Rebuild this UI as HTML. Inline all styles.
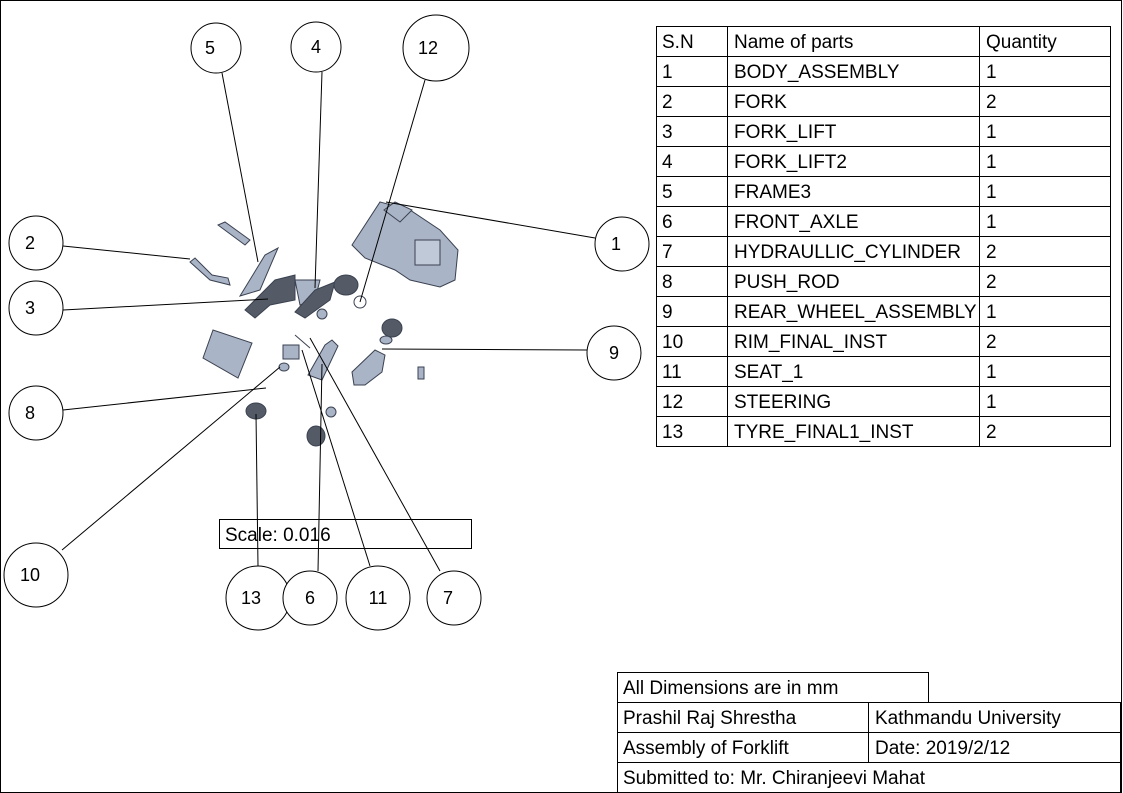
<!DOCTYPE html>
<html><head><style>
body{margin:0;background:#fff;}
svg{display:block;font-family:"Liberation Sans",sans-serif;}
</style></head><body>
<svg width="1123" height="793" viewBox="0 0 1123 793" xmlns="http://www.w3.org/2000/svg">
<rect x="0.5" y="0.5" width="1121" height="792" fill="none" stroke="#000" stroke-width="1"/>
<g fill="#a9b4c6" stroke="#3a4150" stroke-width="1">
<polygon points="352,245 380,202 410,210 440,230 458,250 455,280 440,287 410,280 395,270 365,258"/>
<polygon points="384,210 395,202 412,210 400,222"/>
<rect x="415" y="240" width="25" height="25" fill="#c0c9d8"/>
<polygon points="218,225 245,245 250,240 225,222"/>
<polygon points="190,262 210,280 230,285 228,278 212,275 195,258"/>
<polygon points="240,296 265,255 278,248 260,290"/>
<polygon points="245,310 275,280 295,275 295,300 270,305 255,318" fill="#555b66"/>
<polygon points="295,280 320,280 315,300 300,305"/>
<polygon points="295,312 315,290 335,282 330,300 305,318" fill="#555b66"/>
<ellipse cx="346" cy="285" rx="12" ry="10" fill="#555b66"/>
<ellipse cx="322" cy="314" rx="5" ry="5"/>
<circle cx="360" cy="302" r="6" fill="none"/>
<polygon points="203,358 213,330 252,343 238,378"/>
<ellipse cx="392" cy="328" rx="10" ry="9" fill="#555b66"/>
<ellipse cx="386" cy="340" rx="6" ry="4"/>
<polygon points="352,372 375,350 385,355 382,372 365,385 354,385"/>
<rect x="418" y="367" width="6" height="12"/>
<rect x="283" y="345" width="16" height="14"/>
<polygon points="308,375 325,345 332,340 338,346 322,380"/>
<ellipse cx="284" cy="367" rx="5" ry="4"/>
<ellipse cx="256" cy="411" rx="10" ry="8" fill="#555b66"/>
<ellipse cx="331" cy="412" rx="5" ry="5"/>
<ellipse cx="316" cy="436" rx="9" ry="10" fill="#555b66"/>
<line x1="295" y1="335" x2="310" y2="348"/>
</g>
<g stroke="#000" stroke-width="1" fill="none">
<line x1="222" y1="73" x2="258" y2="262"/>
<line x1="322" y1="72" x2="315" y2="288"/>
<line x1="425" y1="80" x2="360" y2="302"/>
<line x1="63" y1="246" x2="190" y2="259"/>
<line x1="595" y1="238" x2="386" y2="202"/>
<line x1="63" y1="310" x2="268" y2="299"/>
<line x1="587" y1="350" x2="382" y2="349"/>
<line x1="63" y1="410" x2="266" y2="388"/>
<line x1="62" y1="550" x2="280" y2="367"/>
<line x1="258" y1="566" x2="256" y2="414"/>
<line x1="318" y1="571" x2="322" y2="364"/>
<line x1="370" y1="566" x2="302" y2="350"/>
<line x1="440" y1="571" x2="310" y2="338"/>
</g>
<g stroke="#000" stroke-width="1" fill="#fff">
<circle cx="216" cy="48" r="25"/><circle cx="316" cy="47" r="25"/><circle cx="436" cy="48" r="33"/>
<circle cx="36" cy="243" r="27"/><circle cx="622" cy="244" r="27"/><circle cx="36" cy="308" r="27"/>
<circle cx="614" cy="353" r="27"/><circle cx="36" cy="413" r="27"/><circle cx="36" cy="575" r="32"/>
<circle cx="258" cy="598" r="32"/><circle cx="310" cy="598" r="27"/><circle cx="378" cy="598" r="32"/>
<circle cx="454" cy="598" r="27"/>
<rect x="219.5" y="519.5" width="252" height="29" fill="none"/>
</g>
<g font-size="18" text-anchor="middle" fill="#000">
<text x="210" y="54">5</text><text x="316" y="53">4</text><text x="428" y="54">12</text>
<text x="30" y="249">2</text><text x="616" y="250">1</text><text x="30" y="314">3</text>
<text x="614" y="359">9</text><text x="30" y="419">8</text><text x="30" y="581">10</text>
<text x="251" y="604">13</text><text x="310" y="604">6</text><text x="378" y="604">11</text>
<text x="448" y="604">7</text>
</g>
<text x="225" y="541" font-size="19">Scale: 0.016</text>
<g stroke="#000" stroke-width="1" fill="none">
<rect x="656.5" y="26.5" width="454" height="420"/>
<line x1="727.5" y1="26" x2="727.5" y2="446"/>
<line x1="979.5" y1="26" x2="979.5" y2="446"/>
<path d="M656 56.5H1111M656 86.5H1111M656 116.5H1111M656 146.5H1111M656 176.5H1111M656 206.5H1111M656 236.5H1111M656 266.5H1111M656 296.5H1111M656 326.5H1111M656 356.5H1111M656 386.5H1111M656 416.5H1111"/>
</g>
<g font-size="19" fill="#000">
<text x="662" y="48">S.N</text><text x="734" y="48">Name of parts</text><text x="986" y="48">Quantity</text>
<text x="662" y="78">1</text><text x="734" y="78">BODY_ASSEMBLY</text><text x="986" y="78">1</text>
<text x="662" y="108">2</text><text x="734" y="108">FORK</text><text x="986" y="108">2</text>
<text x="662" y="138">3</text><text x="734" y="138">FORK_LIFT</text><text x="986" y="138">1</text>
<text x="662" y="168">4</text><text x="734" y="168">FORK_LIFT2</text><text x="986" y="168">1</text>
<text x="662" y="198">5</text><text x="734" y="198">FRAME3</text><text x="986" y="198">1</text>
<text x="662" y="228">6</text><text x="734" y="228">FRONT_AXLE</text><text x="986" y="228">1</text>
<text x="662" y="258">7</text><text x="734" y="258">HYDRAULLIC_CYLINDER</text><text x="986" y="258">2</text>
<text x="662" y="288">8</text><text x="734" y="288">PUSH_ROD</text><text x="986" y="288">2</text>
<text x="662" y="318">9</text><text x="734" y="318">REAR_WHEEL_ASSEMBLY</text><text x="986" y="318">1</text>
<text x="662" y="348">10</text><text x="734" y="348">RIM_FINAL_INST</text><text x="986" y="348">2</text>
<text x="662" y="378">11</text><text x="734" y="378">SEAT_1</text><text x="986" y="378">1</text>
<text x="662" y="408">12</text><text x="734" y="408">STEERING</text><text x="986" y="408">1</text>
<text x="662" y="438">13</text><text x="734" y="438">TYRE_FINAL1_INST</text><text x="986" y="438">2</text>
</g>
<g stroke="#000" stroke-width="1" fill="none">
<rect x="617.5" y="672.5" width="311" height="30"/>
<rect x="617.5" y="702.5" width="503" height="90"/>
<line x1="617" y1="732.5" x2="1121" y2="732.5"/>
<line x1="617" y1="762.5" x2="1121" y2="762.5"/>
<line x1="868.5" y1="702" x2="868.5" y2="762"/>
</g>
<g font-size="19" fill="#000">
<text x="623" y="694">All Dimensions are in mm</text>
<text x="623" y="724">Prashil Raj Shrestha</text><text x="875" y="724">Kathmandu University</text>
<text x="623" y="754">Assembly of Forklift</text><text x="875" y="754">Date: 2019/2/12</text>
<text x="623" y="784">Submitted to: Mr. Chiranjeevi Mahat</text>
</g>
</svg>
</body></html>
